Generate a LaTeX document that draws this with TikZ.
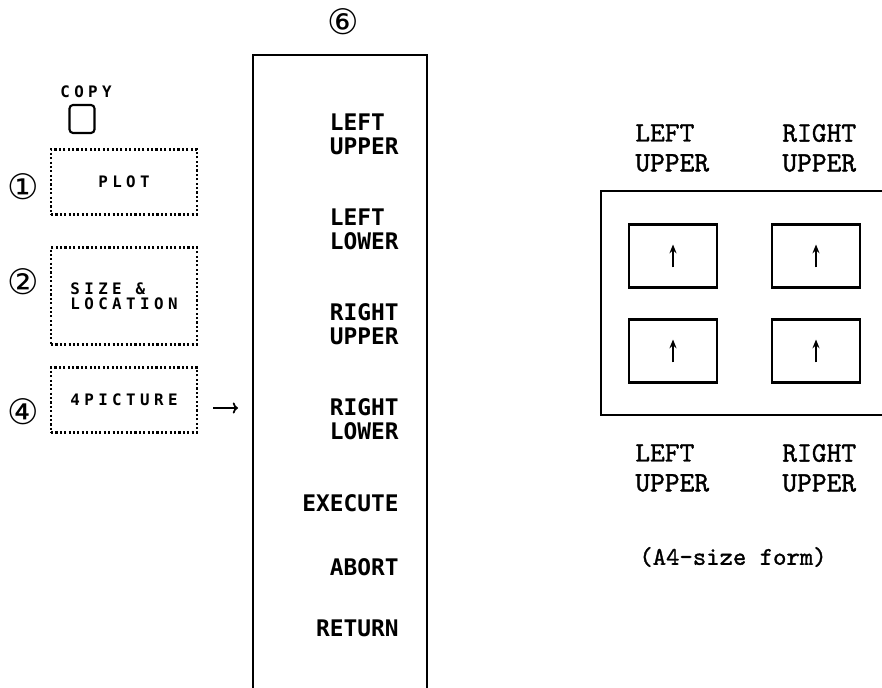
\documentclass[tikz,border=0pt]{standalone}
\usepackage{fontspec}
\usetikzlibrary{arrows.meta}
\newfontfamily\keyfont{DejaVu Sans Mono}[LetterSpace=28]
\newfontfamily\menufont{DejaVu Sans Mono}
\newfontfamily\formfont{lmmono10-regular}[Extension=.otf, FakeBold=1.2]
\newfontfamily\circfont{DejaVu Sans}

\begin{document}
\begin{tikzpicture}
[
    x=0.02cm, y=-0.02cm,
    keys/.style={inner sep=0pt, align=left, font=\keyfont\bfseries\fontsize{9}{8.5}\selectfont},
    keybox/.style={keys, draw, line width=1.2pt, dash pattern=on 1.2pt off 1.3pt, minimum width=2.92cm},
    num/.style={inner sep=0pt, font=\circfont\fontsize{20}{20}\selectfont},
    menu/.style={anchor=east, align=left, inner sep=0pt, font=\menufont\bfseries\fontsize{13}{13.5}\selectfont},
    form/.style={anchor=west, align=left, inner sep=0pt, font=\formfont\fontsize{16}{17}\selectfont},
    sheet/.style={draw, line width=1.2pt, minimum width=1.76cm, minimum height=1.26cm},
    up/.style={-{Stealth[length=5pt, width=4pt]}, line width=1.2pt}
]
    \useasboundingbox (0,0) rectangle (882,688);

    % keys on the left
    \node [keys] (copy) at (86,92) {COPY};
    \node [draw, line width=1.2pt, rounded corners=2pt, minimum width=0.5cm, minimum height=0.56cm] (copykey) at (82,119) {};
    \node [keybox, minimum height=1.3cm] (plot) at (124,182) {PLOT};
    \node [keybox, minimum height=1.94cm] (size) at (124,296) {SIZE \&\\LOCATION};
    \node [keybox, minimum height=1.3cm] (pict) at (124,400) {4PICTURE};
    \node [num] (n1) at (23,187) {①};
    \node [num] (n2) at (23,282) {②};
    \node [num] (n4) at (23,412) {④};

    \coordinate (from) at (213,408);
    \coordinate (to) at (238,408);
    \draw [-{To[length=3pt]}, line width=1pt] (from) -- (to);

    % menu column
    \node [num] (n6) at (343,22) {⑥};
    \draw [line width=1.2pt] (253,688) -- (253,55) -- (427,55) -- (427,688);
    \node [menu] (lu) at (399,134) {LEFT\\UPPER};
    \node [menu] (ll) at (399,229) {LEFT\\LOWER};
    \node [menu] (ru) at (399,324) {RIGHT\\UPPER};
    \node [menu] (rl) at (399,419) {RIGHT\\LOWER};
    \node [menu] (exec) at (399,503) {EXECUTE};
    \node [menu] (abort) at (399,567) {ABORT};
    \node [menu] (ret) at (399,628) {RETURN};

    % A4 form
    \node [form] (topl) at (635,148) {LEFT\\UPPER};
    \node [form] (topr) at (782,148) {RIGHT\\UPPER};
    \draw [line width=1.2pt] (882,191) -- (601,191) -- (601,415) -- (882,415);
    \node [sheet] (s1) at (673,256) {};
    \node [sheet] (s2) at (816,256) {};
    \node [sheet] (s3) at (673,351) {};
    \node [sheet] (s4) at (816,351) {};
    \foreach \s in {s1,s2,s3,s4}
        \draw [up] ([yshift=-0.23cm]\s.center) -- ([yshift=0.23cm]\s.center);
    \node [form] (botl) at (635,468) {LEFT\\UPPER};
    \node [form] (botr) at (782,468) {RIGHT\\UPPER};
    \node [form, font=\formfont\fontsize{14.5}{17}\selectfont] (a4) at (639,557) {(A4-size form)};
\end{tikzpicture}
\end{document}
